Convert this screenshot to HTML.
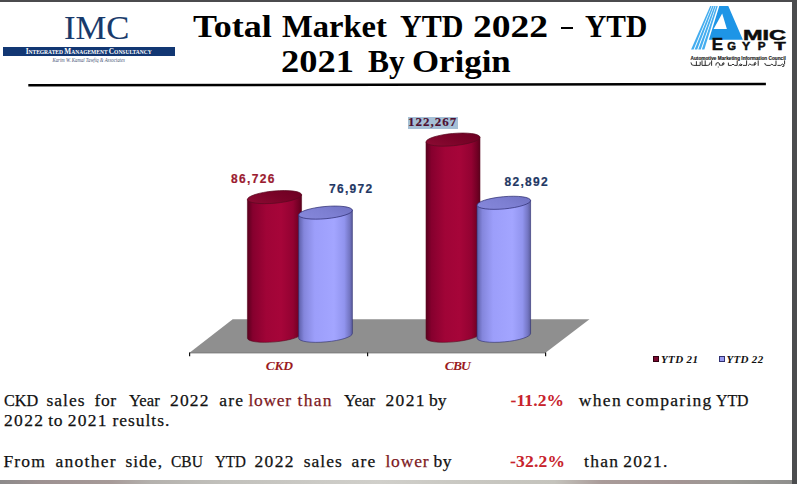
<!DOCTYPE html>
<html><head><meta charset="utf-8">
<style>
html,body{margin:0;padding:0;}
body{width:797px;height:484px;overflow:hidden;position:relative;background:#fff;font-family:"Liberation Serif",serif;}
.a{position:absolute;white-space:pre;}
#topb{left:0;top:0;width:797px;height:2px;background:#4b4b4d;}
#rightb{left:792px;top:0;width:5px;height:484px;background:#4b4c4e;}
#botb{left:0;top:480px;width:792px;height:4px;background:linear-gradient(90deg,#8c8a8a 0%,#9d9191 5%,#a69a98 14%,#b4b1ad 19%,#c1c0bb 28%,#cbcac5 40%,#d0cfca 48%,#c9c8c2 58%,#c4c3bc 70%,#a99b99 76%,#a39594 86%,#9c9a95 92%,#8f8f8d 100%);}
#rule{left:28px;top:83.5px;width:738px;height:2.5px;background:#000;}
.t1{font-weight:bold;font-size:31.5px;line-height:37px;color:#000;}
.body{font-size:17.5px;line-height:20px;color:#111;-webkit-text-stroke:0.25px currentColor;}
.red{color:#7d1a1f;}
.body.pct{font-weight:bold;color:#c8232c;-webkit-text-stroke:0.05px currentColor;}
</style></head><body>
<div class="a" id="topb"></div>

<!-- IMC logo -->
<div class="a" style="left:64px;top:6.9px;font-size:34.6px;color:#183a6b;line-height:40px;-webkit-text-stroke:0.1px #183a6b;">IMC</div>
<div class="a" style="left:3px;top:46.5px;width:171.6px;height:9.5px;background:#123773;"></div>
<svg class="a" style="left:0;top:40px;" width="180" height="25" viewBox="0 40 180 25">
  <text y="54.4" font-family="Liberation Serif" font-weight="bold" fill="#fff" textLength="126" lengthAdjust="spacingAndGlyphs" x="25.7"><tspan font-size="7.8">I</tspan><tspan font-size="5.9">NTEGRATED </tspan><tspan font-size="7.8">M</tspan><tspan font-size="5.9">ANAGEMENT </tspan><tspan font-size="7.8">C</tspan><tspan font-size="5.9">ONSULTANCY</tspan></text>
  <text x="52.5" y="61.6" font-family="Liberation Serif" font-style="italic" font-size="5.8" fill="#4a5878" textLength="72.4" lengthAdjust="spacingAndGlyphs">Karim W. Kamal Tawfiq &amp; Associates</text>
</svg>

<!-- Title -->
<div class="a t1" style="left:192.5px;top:7.8px;transform:scaleX(1.144);transform-origin:0 0;">Total</div>
<div class="a t1" style="left:281.6px;top:7.8px;transform:scaleX(1.034);transform-origin:0 0;">Market</div>
<div class="a t1" style="left:399.6px;top:7.8px;transform:scaleX(0.954);transform-origin:0 0;">YTD</div>
<div class="a t1" style="left:472.9px;top:7.8px;transform:scaleX(1.193);transform-origin:0 0;">2022</div>
<div class="a t1" style="left:585.3px;top:7.8px;transform:scaleX(0.937);transform-origin:0 0;">YTD</div>
<div class="a t1" style="left:281.3px;top:43.0px;transform:scaleX(1.157);transform-origin:0 0;">2021</div>
<div class="a t1" style="left:367.9px;top:43.0px;transform:scaleX(1.000);transform-origin:0 0;">By</div>
<div class="a t1" style="left:411.6px;top:43.0px;transform:scaleX(1.106);transform-origin:0 0;">Origin</div>
<div class="a" style="left:560.8px;top:26.9px;width:12px;height:2.5px;background:#000;"></div>

<!-- AMIC logo -->
<svg class="a" style="left:680px;top:0px;" width="112" height="70" viewBox="680 0 112 70">
  <path fill="#1e95e6" fill-rule="evenodd" d="M719.3,6.1 L728.3,6.1 L742.9,39.8 L708.9,39.8 Z M722.2,13.4 L713.6,28.9 L726.9,28.9 Z"/>
  <g fill="#44adef">
    <polygon points="710.20,6.1 711.63,6.1 693.60,49.6 691.10,49.6"/>
    <polygon points="712.25,6.1 713.69,6.1 697.18,49.6 694.67,49.6"/>
    <polygon points="714.30,6.1 715.74,6.1 700.75,49.6 698.25,49.6"/>
    <polygon points="716.35,6.1 717.78,6.1 704.33,49.6 701.83,49.6"/>
  </g>
  <text x="743" y="40.3" font-family="Liberation Sans" font-weight="bold" font-size="15" fill="#0d0d0d" stroke="#0d0d0d" stroke-width="0.5" textLength="43" lengthAdjust="spacingAndGlyphs">MIC</text>
  <text x="711.8" y="50.4" font-family="Liberation Sans" font-weight="bold" font-size="16.5" fill="#0d0d0d" stroke="#0d0d0d" stroke-width="0.5" textLength="11.3" lengthAdjust="spacingAndGlyphs">E</text>
  <text x="727.3" y="50.4" font-family="Liberation Sans" font-weight="bold" font-size="11.8" fill="#0d0d0d" stroke="#0d0d0d" stroke-width="0.5" textLength="8.8" lengthAdjust="spacingAndGlyphs">G</text>
  <text x="742" y="50.4" font-family="Liberation Sans" font-weight="bold" font-size="11.8" fill="#0d0d0d" stroke="#0d0d0d" stroke-width="0.5" textLength="8.2" lengthAdjust="spacingAndGlyphs">Y</text>
  <text x="757.8" y="50.4" font-family="Liberation Sans" font-weight="bold" font-size="11.8" fill="#0d0d0d" stroke="#0d0d0d" stroke-width="0.5" textLength="7.8" lengthAdjust="spacingAndGlyphs">P</text>
  <text x="774.2" y="50.4" font-family="Liberation Sans" font-weight="bold" font-size="11.8" fill="#0d0d0d" stroke="#0d0d0d" stroke-width="0.5" textLength="11.5" lengthAdjust="spacingAndGlyphs">T</text>
  <text x="690.6" y="59.5" font-family="Liberation Sans" font-weight="bold" font-size="5.6" fill="#1a1a1a" stroke="#1a1a1a" stroke-width="0.15" textLength="95.2" lengthAdjust="spacingAndGlyphs">Automotive Marketing Information Council</text>
  <path d="M691,62.8 q0,2.8 2.8,2.6 h2.6 v-3.8 M696.4,65.4 h3.8 v-3.2 M702,60.8 v4.6 h3.2 v-4.6 M705.2,65.4 h2.6 q2.4,0 2.4,-2.6 M711.6,60.8 v4.6 M715.8,65.2 q-0.4,-2.6 2.2,-2.6 q2,0.3 1.4,2.6 h3 q2,-0.2 1.6,-2.4 q-1.8,-0.4 -1.6,1.6 M718.2,67 h0.1 M728.4,63 v2.4 h3 q1.6,-2.6 3.2,0 h2.6 v-4.4 M738.8,65.4 q1.6,-2.4 3.4,-0.6 q-0.8,1.6 -2.4,0.6 M743.4,65.4 h3.2 v-4.6 M748.2,65.4 q1.6,-2.8 3.4,-0.4 h3.4 q1.6,-2.2 0.4,-2.6 q-2,0 -1,2.4 M758.2,60.8 v4.6 M764.8,63.4 q0.2,2.2 2.2,2 h3.2 q1.8,-2.6 3.2,0 h2.6 v-4.4 M777.8,65.4 h3 q1.6,-2.4 3.2,-0.4 q0.6,1.8 -1.4,1.6 M784.6,60.8 v3.2" stroke="#262626" stroke-width="0.95" fill="none" stroke-linecap="round"/>
</svg>

<svg class="a" style="left:0;top:78px;" width="797" height="14"><line x1="28.3" y1="7.3" x2="765.9" y2="6.0" stroke="#000" stroke-width="2.5"/></svg>

<!-- Chart -->
<svg class="a" style="left:0;top:0;" width="797" height="484">
  <defs>
    <linearGradient id="gr" x1="0" x2="1" y1="0" y2="0">
      <stop offset="0" stop-color="#5a001e"/>
      <stop offset="0.1" stop-color="#86002e"/>
      <stop offset="0.35" stop-color="#a00437"/>
      <stop offset="0.62" stop-color="#a60539"/>
      <stop offset="0.84" stop-color="#930232"/>
      <stop offset="0.95" stop-color="#710024"/>
      <stop offset="1" stop-color="#5c001d"/>
    </linearGradient>
    <linearGradient id="gb" x1="0" x2="1" y1="0" y2="0">
      <stop offset="0" stop-color="#5c5ea8"/>
      <stop offset="0.1" stop-color="#8486dc"/>
      <stop offset="0.3" stop-color="#9c9efa"/>
      <stop offset="0.66" stop-color="#a3a5ff"/>
      <stop offset="0.85" stop-color="#9194ee"/>
      <stop offset="0.95" stop-color="#7375c2"/>
      <stop offset="1" stop-color="#5a5c9c"/>
    </linearGradient>
    <linearGradient id="tr" x1="0" x2="1" y1="0.6" y2="0.2">
      <stop offset="0" stop-color="#8a0a32"/>
      <stop offset="0.5" stop-color="#7a0328"/>
      <stop offset="1" stop-color="#6c0022"/>
    </linearGradient>
    <linearGradient id="tb" x1="0" x2="1" y1="0.6" y2="0.2">
      <stop offset="0" stop-color="#8587da"/>
      <stop offset="0.5" stop-color="#7d7fd2"/>
      <stop offset="1" stop-color="#7072c2"/>
    </linearGradient>
  </defs>
  <!-- floor -->
  <polygon points="232.7,319.3 589.5,319.3 545.5,352.7 189.5,352.7" fill="#8f8f8f"/>
  <line x1="189.5" y1="352.9" x2="545.5" y2="352.9" stroke="#5a5a5a" stroke-width="0.8"/>
  <g stroke="#111" stroke-width="1.2">
    <line x1="189.6" y1="352.5" x2="189.6" y2="356.3"/>
    <line x1="367.6" y1="352.5" x2="367.6" y2="356.3"/>
    <line x1="545.6" y1="352.5" x2="545.6" y2="356.3"/>
  </g>
  <g id="cyl">
<path d="M247.41,199.57 L247.41,338.27 A27.2,6.1 -5.2 0 0 301.59,333.33 L301.59,194.63 Z" fill="url(#gr)" stroke="#5a0a20" stroke-width="0.6"/>
<ellipse cx="274.5" cy="197.1" rx="27.2" ry="6.1" transform="rotate(-5.2 274.5 197.1)" fill="url(#tr)" stroke="#5a0a20" stroke-width="0.7"/>
<path d="M298.61,215.05 L298.61,338.25 A27.0,6.1 -5.2 0 0 352.39,333.35 L352.39,210.15 Z" fill="url(#gb)" stroke="#2c2c70" stroke-width="0.6"/>
<ellipse cx="325.5" cy="212.6" rx="27.0" ry="6.1" transform="rotate(-5.2 325.5 212.6)" fill="url(#tb)" stroke="#2c2c70" stroke-width="0.7"/>
<path d="M426.01,142.06 L426.01,338.26 A27.1,6.1 -5.2 0 0 479.99,333.34 L479.99,137.14 Z" fill="url(#gr)" stroke="#5a0a20" stroke-width="0.6"/>
<ellipse cx="453.0" cy="139.6" rx="27.1" ry="6.1" transform="rotate(-5.2 453.0 139.6)" fill="url(#tr)" stroke="#5a0a20" stroke-width="0.7"/>
<path d="M477.01,205.24 L477.01,338.24 A26.9,6.1 -5.2 0 0 530.59,333.36 L530.59,200.36 Z" fill="url(#gb)" stroke="#2c2c70" stroke-width="0.6"/>
<ellipse cx="503.8" cy="202.8" rx="26.9" ry="6.1" transform="rotate(-5.2 503.8 202.8)" fill="url(#tb)" stroke="#2c2c70" stroke-width="0.7"/>
</g>
</svg>

<!-- data labels -->
<div class="a" style="left:231px;top:172px;font:bold 12px 'Liberation Sans',sans-serif;color:#9b1b30;letter-spacing:1.35px;-webkit-text-stroke:0.2px #9b1b30;line-height:14px;">86,726</div>
<div class="a" style="left:329px;top:182.2px;font:bold 12px 'Liberation Sans',sans-serif;color:#1f3864;letter-spacing:1.3px;-webkit-text-stroke:0.2px #1f3864;line-height:14px;">76,972</div>
<div class="a" style="left:504.5px;top:175.4px;font:bold 12px 'Liberation Sans',sans-serif;color:#1f3864;letter-spacing:1.3px;-webkit-text-stroke:0.2px #1f3864;line-height:14px;">82,892</div>
<div class="a" style="left:408px;top:117px;width:50px;height:11.6px;background:#a5bfd6;"></div>
<div class="a" style="left:408px;top:114px;font:bold 13px 'Liberation Serif',serif;color:#4e1030;letter-spacing:1px;-webkit-text-stroke:0.15px #4e1030;line-height:15px;">122,267</div>

<!-- category labels -->
<div class="a" style="left:265.8px;top:357.6px;letter-spacing:-0.3px;font:bold italic 13.5px 'Liberation Serif',serif;color:#9b1b22;line-height:16px;">CKD</div>
<div class="a" style="left:444.8px;top:357.8px;letter-spacing:-0.9px;font:bold italic 13.5px 'Liberation Serif',serif;color:#9b1b22;line-height:16px;">CBU</div>

<!-- legend -->
<div class="a" style="left:653px;top:356.2px;width:4.3px;height:4.3px;background:#7a0a30;border:0.7px solid #300010;"></div>
<div class="a" style="left:661px;top:352.8px;font:bold italic 11px 'Liberation Serif',serif;color:#111;letter-spacing:0.35px;line-height:13px;">YTD 21</div>
<div class="a" style="left:718.5px;top:356.2px;width:4.3px;height:4.3px;background:#9a9cf0;border:0.7px solid #303070;"></div>
<div class="a" style="left:726.5px;top:352.8px;font:bold italic 11px 'Liberation Serif',serif;color:#111;letter-spacing:0.3px;line-height:13px;">YTD 22</div>

<!-- body text -->
<div class="a body " style="left:4.0px;top:389.9px;transform:scaleX(0.926);transform-origin:0 0;">CKD</div>
<div class="a body " style="left:46.4px;top:389.9px;letter-spacing:1.05px;">sales</div>
<div class="a body " style="left:94.6px;top:389.9px;letter-spacing:0.50px;">for</div>
<div class="a body " style="left:128.8px;top:389.9px;transform:scaleX(0.952);transform-origin:0 0;">Year</div>
<div class="a body " style="left:170.1px;top:389.9px;letter-spacing:1.13px;">2022</div>
<div class="a body " style="left:219.3px;top:389.9px;letter-spacing:1.20px;">are</div>
<div class="a body red" style="left:248.6px;top:389.9px;letter-spacing:0.65px;">lower</div>
<div class="a body red" style="left:297.6px;top:389.9px;letter-spacing:1.30px;">than</div>
<div class="a body " style="left:343.5px;top:389.9px;transform:scaleX(0.961);transform-origin:0 0;">Year</div>
<div class="a body " style="left:385.4px;top:389.9px;letter-spacing:1.40px;">2021</div>
<div class="a body " style="left:429.0px;top:389.9px;letter-spacing:0.00px;">by</div>
<div class="a body pct" style="left:510.5px;top:389.9px;letter-spacing:0.10px;">-11.2%</div>
<div class="a body " style="left:578.8px;top:389.9px;letter-spacing:1.33px;">when</div>
<div class="a body " style="left:626.2px;top:389.9px;letter-spacing:1.29px;">comparing</div>
<div class="a body " style="left:716.2px;top:389.9px;transform:scaleX(0.903);transform-origin:0 0;">YTD</div>
<div class="a body " style="left:4.0px;top:410.0px;letter-spacing:1.33px;">2022</div>
<div class="a body " style="left:48.2px;top:410.0px;letter-spacing:0.80px;">to</div>
<div class="a body " style="left:67.8px;top:410.0px;letter-spacing:1.23px;">2021</div>
<div class="a body " style="left:112.5px;top:410.0px;letter-spacing:0.97px;">results.</div>
<div class="a body " style="left:3.5px;top:450.9px;letter-spacing:1.13px;">From</div>
<div class="a body " style="left:55.5px;top:450.9px;letter-spacing:1.25px;">another</div>
<div class="a body " style="left:125.4px;top:450.9px;letter-spacing:1.02px;">side,</div>
<div class="a body " style="left:171.3px;top:450.9px;transform:scaleX(0.886);transform-origin:0 0;">CBU</div>
<div class="a body " style="left:214.7px;top:450.9px;transform:scaleX(0.860);transform-origin:0 0;">YTD</div>
<div class="a body " style="left:254.4px;top:450.9px;letter-spacing:1.37px;">2022</div>
<div class="a body " style="left:303.8px;top:450.9px;letter-spacing:0.97px;">sales</div>
<div class="a body " style="left:351.5px;top:450.9px;letter-spacing:1.15px;">are</div>
<div class="a body red" style="left:385.4px;top:450.9px;letter-spacing:0.85px;">lower</div>
<div class="a body " style="left:433.5px;top:450.9px;letter-spacing:0.40px;">by</div>
<div class="a body pct" style="left:510.0px;top:450.9px;letter-spacing:0.20px;">-32.2%</div>
<div class="a body " style="left:584.0px;top:450.9px;letter-spacing:1.30px;">than</div>
<div class="a body " style="left:623.2px;top:450.9px;letter-spacing:1.22px;">2021.</div>
<!-- /body text -->

<div class="a" id="rightb"></div>
<div class="a" id="botb"></div>
</body></html>
